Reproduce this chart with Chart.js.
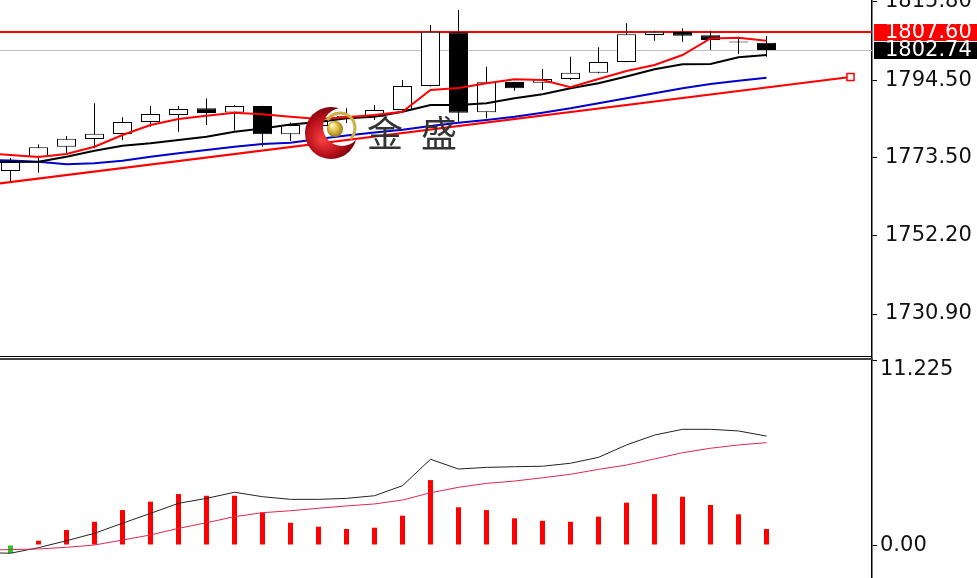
<!DOCTYPE html>
<html>
<head>
<meta charset="utf-8">
<script src="https://cdn.jsdelivr.net/npm/chart.js@4.4.1/dist/chart.umd.min.js"></script>
<style>
  html, body { margin:0; padding:0; background:#fff; }
  #wrap { position:relative; width:977px; height:578px; overflow:hidden; }
  canvas { position:absolute; left:0; }
  #price { top:0; }
  #macd { top:356px; }
</style>
</head>
<body>
<div id="wrap">
  <canvas id="price" width="977" height="356"></canvas>
  <canvas id="macd" width="977" height="222"></canvas>
</div>
<script>
// candles, bar 0 .. 27
const openP  = [1769.81,1773.70,1776.43,1778.52,1779.88,1783.15,1785.05,1786.87,1785.73,1787.50,1779.80,1782.06,1783.88,1784.59,
                1786.41,1792.94,1807.55,1785.79,1794.03,1793.84,1794.85,1796.56,1799.47,1806.82,1807.64,1806.74,1804.75,1804.72];
const highP  = [1773.35,1777.08,1779.34,1788.24,1784.43,1787.50,1787.50,1789.54,1787.77,1787.60,1783.01,1784.23,1786.87,1787.77,
                1794.58,1809.54,1813.62,1798.19,1794.10,1797.57,1800.92,1803.47,1810.00,1807.99,1808.64,1807.99,1805.73,1806.55];
const lowP   = [1767.09,1769.35,1774.17,1775.99,1778.25,1781.87,1780.51,1782.33,1780.83,1776.43,1777.98,1780.97,1782.87,1783.69,
                1785.87,1792.81,1783.23,1784.15,1791.66,1791.85,1794.58,1796.40,1799.40,1805.27,1805.00,1802.74,1801.65,1800.92];
const closeP = [1772.26,1776.26,1778.60,1779.96,1783.15,1785.32,1786.68,1785.60,1787.50,1779.80,1782.33,1783.42,1784.86,1786.41,
                1792.94,1807.72,1785.68,1793.95,1792.32,1794.85,1796.56,1799.47,1807.01,1807.72,1806.63,1805.46,1805.05,1802.74];

// moving averages and MACD lines start one bar before the first candle
const lineStart = -1;
const maFast = [1774.71,1774.17,1773.62,1774.44,1776.43,1779.61,1782.33,1783.96,1784.86,1785.68,1785.24,1784.59,1783.96,1784.43,
                1785.05,1785.95,1791.85,1792.40,1793.68,1794.77,1794.58,1792.59,1794.85,1797.02,1798.66,1801.38,1805.87,1806.09,1805.27];
const maMid  = [1772.26,1772.26,1772.34,1773.70,1775.34,1776.70,1777.35,1778.25,1779.15,1780.51,1781.38,1782.47,1783.15,1784.15,
                1784.59,1785.95,1787.77,1787.77,1788.24,1789.60,1790.68,1792.32,1793.68,1795.53,1797.49,1798.85,1798.93,1800.75,1801.38];
const maSlow = [1772.94,1772.67,1772.34,1771.64,1771.91,1772.62,1773.70,1774.63,1775.53,1776.43,1777.16,1777.51,1778.52,1779.47,
                1780.29,1781.05,1782.06,1782.96,1783.69,1784.59,1785.68,1786.87,1788.24,1789.60,1790.96,1792.32,1793.49,1794.38,1795.20];
const trendX = [-1, 30];
const trendY = [1765.85, 1795.38];
const priceTicks = [1815.80, 1794.50, 1773.50, 1752.20, 1730.90];
const askLine = 1807.60;
const bidLine = 1802.74;

const macdHist   = [-0.49,0.26,0.91,1.41,2.12,2.63,3.09,2.99,2.99,1.98,1.35,1.11,0.97,1.05,
                    1.78,3.94,2.29,2.12,1.62,1.47,1.41,1.72,2.57,3.09,2.93,2.43,1.86,0.97];
const macdDif    = [-0.46,-0.50,-0.16,0.26,0.71,1.32,1.92,2.53,2.83,3.20,2.93,2.77,2.77,2.83,2.99,
                    3.60,5.20,4.61,4.71,4.75,4.78,4.96,5.32,6.07,6.67,7.02,7.02,6.92,6.61];
const macdSignal = [-0.31,-0.28,-0.24,-0.14,0.00,0.30,0.61,1.01,1.35,1.72,1.96,2.08,2.23,2.37,2.49,
                    2.73,3.17,3.50,3.74,3.88,4.08,4.29,4.59,4.85,5.22,5.60,5.87,6.07,6.21];
const macdTicks  = [11.225, 0];
const macdTickLabels = ['11.225', '0.00'];

const bars = openP.map((_, i) => i);
const asLine = arr => arr.map((v, k) => ({ x: lineStart + k, y: v }));

const AXIS_W = 105;
const xScale = { type:'linear', min:-10.5/28, max:-10.5/28 + 872/28, display:false, offset:false };
const tickFont = { family:'DejaVu Sans', size:21 };

function fixAxis(s) { s.width = AXIS_W; s.paddingTop = 0; s.paddingBottom = 0; }

function drawLogo(ctx) {
  ctx.save();
  ctx.beginPath();
  ctx.rect(290, 95, 90, 80);
  ctx.arc(342, 127, 19, 0, Math.PI * 2);
  ctx.clip('evenodd');
  const g = ctx.createRadialGradient(322, 140, 2, 328, 134, 30);
  g.addColorStop(0, '#f03a3a');
  g.addColorStop(0.6, '#b8101a');
  g.addColorStop(1, '#6a0008');
  ctx.fillStyle = g;
  ctx.beginPath();
  ctx.arc(331, 133, 26, 0, Math.PI * 2);
  ctx.fill();
  ctx.restore();

  ctx.save();
  ctx.strokeStyle = '#cfae45';
  ctx.lineWidth = 3;
  ctx.beginPath();
  ctx.arc(340, 128, 15, -2.6, 0.8);
  ctx.stroke();
  const b = ctx.createRadialGradient(332, 125, 1, 335, 129, 9);
  b.addColorStop(0, '#fff4b8');
  b.addColorStop(0.5, '#d8b640');
  b.addColorStop(1, '#8c6a12');
  ctx.fillStyle = b;
  ctx.beginPath();
  ctx.arc(335, 129, 8, 0, Math.PI * 2);
  ctx.fill();
  ctx.fillStyle = '#333';
  ctx.font = '36px "Noto Sans CJK SC"';
  ctx.textAlign = 'center';
  ctx.textBaseline = 'middle';
  ctx.fillText('金', 385, 133);
  ctx.fillText('盛', 439, 133);
  ctx.restore();
}

const priceDecor = {
  id: 'priceDecor',
  beforeDatasetsDraw(chart) {
    const { ctx, chartArea: a, scales: { y } } = chart;
    ctx.save();
    ctx.lineWidth = 1;
    ctx.strokeStyle = '#c0c0c0';
    let py = Math.round(y.getPixelForValue(bidLine)) + 0.5;
    ctx.beginPath(); ctx.moveTo(a.left, py); ctx.lineTo(a.right, py); ctx.stroke();
    ctx.lineWidth = 2;
    ctx.strokeStyle = '#ff0000';
    py = Math.round(y.getPixelForValue(askLine));
    ctx.beginPath(); ctx.moveTo(a.left, py); ctx.lineTo(a.right, py); ctx.stroke();
    ctx.restore();
  },
  afterDatasetsDraw(chart) {
    drawLogo(chart.ctx);
  },
  afterDraw(chart) {
    const { ctx, chartArea: a, scales: { y } } = chart;
    ctx.save();
    [[askLine, '#ff0000'], [bidLine, '#000000']].forEach(([v, c]) => {
      const py = Math.round(y.getPixelForValue(v));
      ctx.fillStyle = c;
      ctx.fillRect(a.right + 2, py - 8, chart.width - a.right, 17);
      ctx.fillStyle = '#fff';
      ctx.font = '21px "DejaVu Sans"';
      ctx.textBaseline = 'middle';
      ctx.textAlign = 'left';
      ctx.fillText(v.toFixed(2), a.right + 13, py + 1);
    });
    ctx.restore();
  }
};

new Chart(document.getElementById('price'), {
  type: 'bar',
  data: {
    datasets: [
      { type:'line', data: asLine(maFast), borderColor:'#ff0000', borderWidth:2, pointRadius:0, tension:0, order:0 },
      { type:'line', data: asLine(maMid), borderColor:'#000000', borderWidth:2, pointRadius:0, tension:0, order:1 },
      { type:'line', data: asLine(maSlow), borderColor:'#0000cc', borderWidth:2, pointRadius:0, tension:0, order:2 },
      { type:'line', data: trendX.map((x, k) => ({ x, y: trendY[k] })), borderColor:'#ff0000', borderWidth:2, tension:0,
        pointStyle:'rect', pointRadius:[0, 5], pointBorderColor:'#ff0000', pointBackgroundColor:'#ffffff', pointBorderWidth:1.5, order:3 },
      { data: bars.map(i => ({ x: i, y: [openP[i], closeP[i]] })),
        backgroundColor: bars.map(i => closeP[i] >= openP[i] ? '#ffffff' : '#000000'),
        borderColor:'#000000', borderWidth:1, borderSkipped:false, barThickness:19, grouped:false, inflateAmount:0, order:4 },
      { data: bars.map(i => ({ x: i, y: [lowP[i], highP[i]] })),
        backgroundColor:'#000000', borderWidth:0, barThickness:1, grouped:false, inflateAmount:0, order:5 }
    ]
  },
  options: {
    responsive:false, animation:false, devicePixelRatio:1,
    layout:{ padding:0, autoPadding:false },
    plugins:{ legend:{ display:false }, tooltip:{ enabled:false } },
    scales:{
      x: xScale,
      y: {
        position:'right', min:1719.473, max:1816.344,
        afterBuildTicks: s => { s.ticks = priceTicks.map(v => ({ value:v })); },
        afterFit: fixAxis,
        ticks:{ autoSkip:false, callback: v => v.toFixed(2), color:'#111', font: tickFont, padding:8 },
        grid:{ drawOnChartArea:false, tickLength:5, color:'#000' },
        border:{ color:'#000', width:1.5 }
      }
    }
  },
  plugins:[priceDecor]
});

const macdDecor = {
  id: 'macdDecor',
  afterDraw(chart) {
    const { ctx, chartArea: a, scales: { y } } = chart;
    ctx.save();
    ctx.fillStyle = '#000';
    ctx.fillRect(0, 0, a.right, 1);
    ctx.fillStyle = '#444';
    ctx.fillRect(0, 2, a.right + 1, 2);
    ctx.fillStyle = '#111';
    ctx.font = '21px "DejaVu Sans"';
    ctx.textBaseline = 'middle';
    ctx.textAlign = 'left';
    macdTicks.forEach((v, k) => {
      const py = Math.max(y.getPixelForValue(v) + 1, a.top + 14);
      ctx.fillText(macdTickLabels[k], a.right + 8, py);
    });
    ctx.restore();
  }
};

new Chart(document.getElementById('macd'), {
  type: 'bar',
  data: {
    datasets: [
      { type:'line', data: asLine(macdSignal), borderColor:'#dc2850', borderWidth:1, pointRadius:0, tension:0, order:0 },
      { type:'line', data: asLine(macdDif), borderColor:'#222222', borderWidth:1, pointRadius:0, tension:0, order:1 },
      { data: bars.map(i => ({ x: i, y: macdHist[i] })),
        backgroundColor: bars.map(i => macdHist[i] >= 0 ? '#ff0000' : '#22cc22'),
        borderWidth:0, barThickness:5, grouped:false, inflateAmount:0, order:2 }
    ]
  },
  options: {
    responsive:false, animation:false, devicePixelRatio:1,
    layout:{ padding:0, autoPadding:false },
    plugins:{ legend:{ display:false }, tooltip:{ enabled:false } },
    scales:{
      x: xScale,
      y: {
        position:'right', min:-2.002, max:11.468,
        afterBuildTicks: s => { s.ticks = macdTicks.map(v => ({ value:v })); },
        afterFit: fixAxis,
        ticks:{ autoSkip:false, callback: () => '', font: tickFont },
        grid:{ drawOnChartArea:false, tickLength:5, color:'#000' },
        border:{ color:'#000', width:1.5 }
      }
    }
  },
  plugins:[macdDecor]
});
</script>
</body>
</html>
